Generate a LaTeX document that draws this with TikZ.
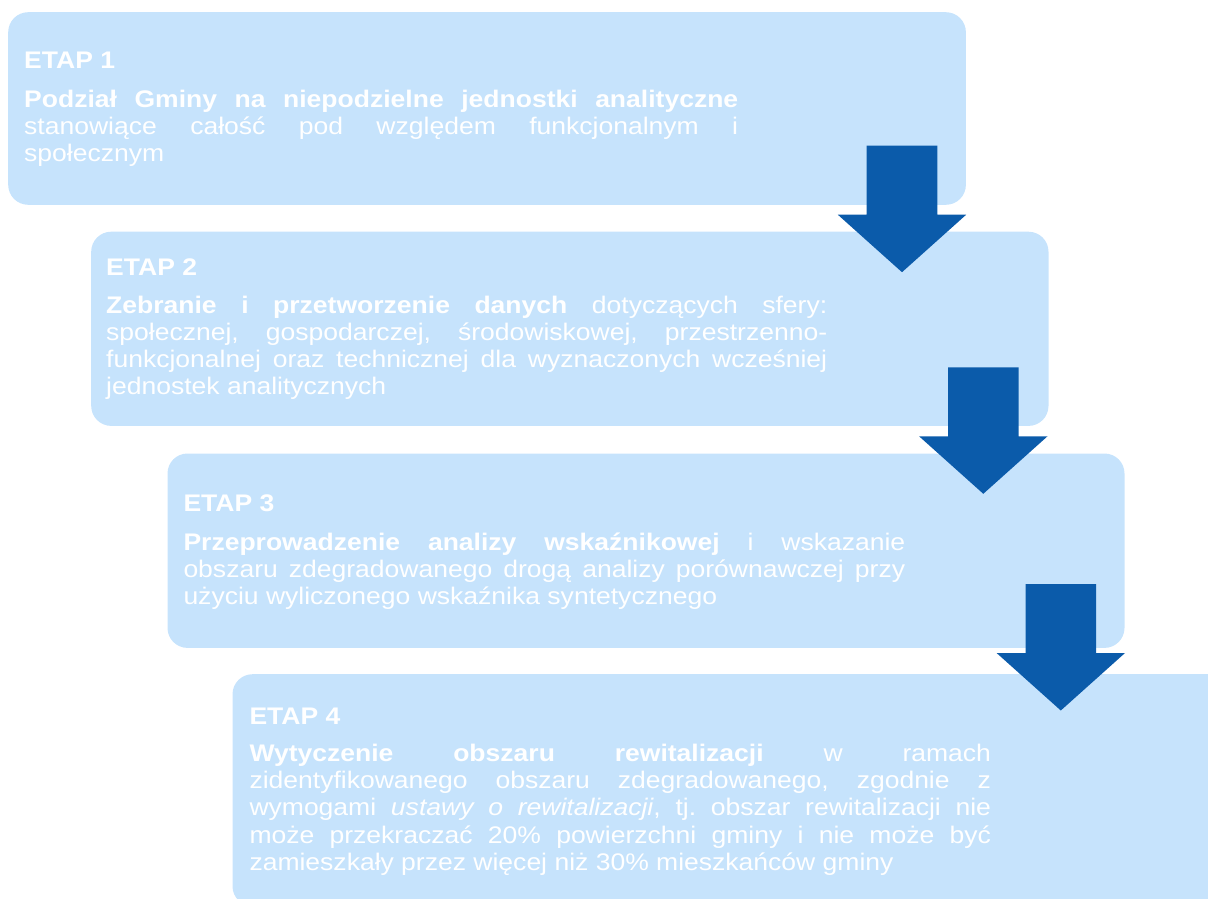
\documentclass[tikz,border=0pt]{standalone}
\usepackage{fontspec}
\setmainfont{Liberation Sans}[FakeStretch=1.105]
\definecolor{boxblue}{HTML}{C6E3FC}
\definecolor{arrowblue}{HTML}{0B5BAA}
\newcommand{\stagebody}[2]{\parbox[t]{#1}{\fontsize{24}{27.1}\selectfont\setlength\parindent{0pt}\frenchspacing\tolerance=10000 \hbadness=10000 \hyphenpenalty=10000 \exhyphenpenalty=10000 #2}}
\newcommand{\downblock}[1]{\fill[arrowblue, shift={(#1)}] (-35.3,0) -- (35.3,0) -- (35.3,69) -- (64.2,69) -- (0,126.5) -- (-64.2,69) -- (-35.3,69) -- cycle;}
\begin{document}
\begin{tikzpicture}[x=1pt,y=-1pt,
  stagebox/.style={fill=boxblue, draw=none, rounded corners=20pt, inner sep=0pt, anchor=north west},
  stagetitle/.style={anchor=base west, inner sep=0pt, text=white, font=\fontsize{24}{27}\selectfont\bfseries},
  stagetext/.style={anchor=base west, inner sep=0pt, text=white}]
\useasboundingbox (0,0) rectangle (1208,899);
\clip (0,0) rectangle (1208,899);
% boxes
\node[stagebox, minimum width=957.7pt, minimum height=192.6pt] (b1) at (8,12) {};
\node[stagebox, minimum width=957.3pt, minimum height=194.2pt] (b2) at (91,231.5) {};
\node[stagebox, minimum width=957pt, minimum height=194.4pt] (b3) at (167.3,453.3) {};
\node[stagebox, minimum width=1000pt, minimum height=232pt] (b4) at (232.3,674) {};
% texts
\node[stagetitle] (t1) at (24,69) {ETAP 1};
\node[stagetext] (x1) at (24,107) {\stagebody{714pt}{{\bfseries Podział Gminy na niepodzielne jednostki analityczne}\linebreak stanowiące całość pod względem funkcjonalnym i\linebreak społecznym}};
\node[stagetitle] (t2) at (106,275.7) {ETAP 2};
\node[stagetext] (x2) at (106,313.3) {\stagebody{721pt}{{\bfseries Zebranie i przetworzenie danych} dotyczących sfery:\linebreak społecznej, gospodarczej, środowiskowej, przestrzenno-\linebreak funkcjonalnej oraz technicznej dla wyznaczonych wcześniej\linebreak jednostek analitycznych}};
\node[stagetitle] (t3) at (183.3,511.7) {ETAP 3};
\node[stagetext] (x3) at (183.3,550) {\stagebody{721.7pt}{{\bfseries Przeprowadzenie analizy wskaźnikowej} i wskazanie\linebreak obszaru zdegradowanego drogą analizy porównawczej przy\linebreak użyciu wyliczonego wskaźnika syntetycznego}};
\node[stagetitle] (t4) at (249.3,724) {ETAP 4};
\node[stagetext] (x4) at (249.3,761.7) {\stagebody{741.5pt}{{\bfseries Wytyczenie obszaru rewitalizacji} w ramach\linebreak zidentyfikowanego obszaru zdegradowanego, zgodnie z\linebreak wymogami \textit{ustawy o rewitalizacji}, tj. obszar rewitalizacji nie\linebreak może przekraczać 20\% powierzchni gminy i nie może być\linebreak zamieszkały przez więcej niż 30\% mieszkańców gminy}};
% arrows
\downblock{902,145.7}
\downblock{983.3,367.3}
\downblock{1060.8,584}
\end{tikzpicture}
\end{document}
